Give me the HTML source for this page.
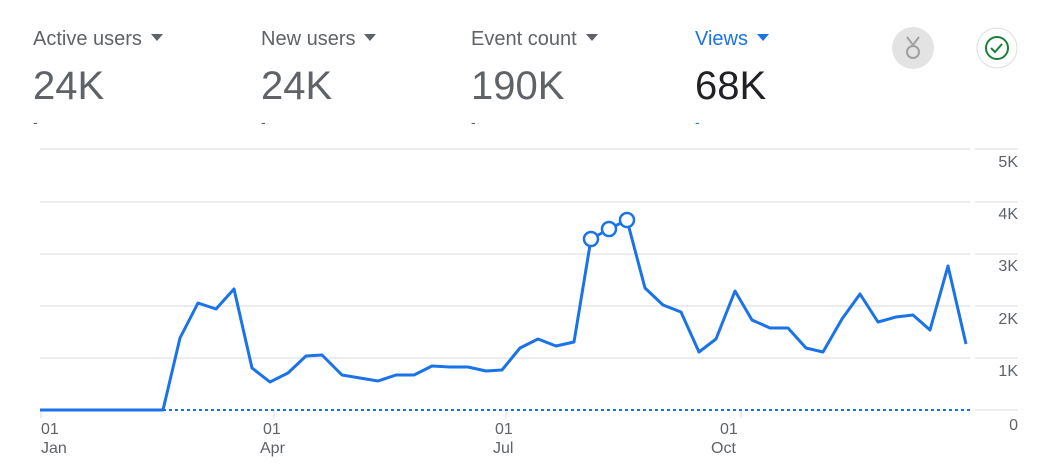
<!DOCTYPE html>
<html><head><style>
body{margin:0;width:1041px;height:471px;background:#fff;font-family:"Liberation Sans",Arial,sans-serif;overflow:hidden;position:relative}
.m{position:absolute;top:28px}
.t{font-size:20px;color:#5f6368;white-space:nowrap;height:24px}
.t span{display:inline-block;width:0;height:0;border-left:6px solid transparent;border-right:6px solid transparent;border-top:7px solid #5f6368;margin-left:9px;vertical-align:4px}
.v{font-size:40px;color:#5f6368;margin-top:12px;line-height:44px}
.d{font-size:14px;color:#5f6368;margin-top:6px}
</style></head><body>
<div class="m" style="left:33px"><div class="t">Active users<span></span></div><div class="v">24K</div><div class="d">-</div></div>
<div class="m" style="left:261px"><div class="t">New users<span></span></div><div class="v">24K</div><div class="d">-</div></div>
<div class="m" style="left:471px"><div class="t">Event count<span></span></div><div class="v">190K</div><div class="d">-</div></div>
<div class="m" style="left:695px"><div class="t" style="color:#1a73e8">Views<span style="border-top-color:#1a73e8"></span></div><div class="v" style="color:#202124">68K</div><div class="d" style="color:#1a73e8">-</div></div>
<svg width="1041" height="471" style="position:absolute;left:0;top:0">
<circle cx="913" cy="48" r="21" fill="#e3e3e3"/>
<g fill="none" stroke="#a0a0a0" stroke-width="2"><path d="M907 37l6 8 6-8"/><circle cx="913" cy="52" r="6"/></g>
<circle cx="997" cy="48" r="20" fill="#fff" stroke="#ddd"/>
<circle cx="997" cy="48" r="11" fill="none" stroke="#188038" stroke-width="2"/>
<path d="M991 48l4 4 7-8" fill="none" stroke="#188038" stroke-width="2"/>
<g stroke="#e6e6e6" stroke-width="1.5">
<line x1="40" y1="149" x2="970" y2="149"/><line x1="975" y1="149" x2="1018" y2="149"/>
<line x1="40" y1="202" x2="970" y2="202"/><line x1="975" y1="202" x2="1018" y2="202"/>
<line x1="40" y1="254" x2="970" y2="254"/><line x1="975" y1="254" x2="1018" y2="254"/>
<line x1="40" y1="306" x2="970" y2="306"/><line x1="975" y1="306" x2="1018" y2="306"/>
<line x1="40" y1="358" x2="970" y2="358"/><line x1="975" y1="358" x2="1018" y2="358"/>
<line x1="975" y1="410" x2="1018" y2="410"/>
<line x1="41" y1="410" x2="41" y2="418"/><line x1="274" y1="410" x2="274" y2="418"/><line x1="506" y1="410" x2="506" y2="418"/><line x1="741" y1="410" x2="741" y2="418"/>
</g>
<line x1="163" y1="410" x2="970" y2="410" stroke="#1a73e8" stroke-width="2" stroke-dasharray="3,3"/>
<polyline fill="none" stroke="#1a73e8" stroke-width="3" stroke-linejoin="round" points="40,410 163,410 180,338 198,303 216,309 234,289 252,368 270,382 288,373 306,356 322,355 342,375 360,378 378,381 396,375 414,375 432,366 450,367 468,367 486,371 502,370 520,348 538,339 556,346 574,342 591,239 609,229 627,220 645,288 663,305 681,312 699,352 716,339 735,291 752,320 770,328 788,328 806,348 823,352 842,319 860,294 878,322 896,317 913,315 930,330 948,266 966,344"/>
<g fill="#fff" stroke="#1a73e8" stroke-width="2.5"><circle cx="591" cy="239" r="7"/><circle cx="609" cy="229" r="7"/><circle cx="627" cy="220" r="7"/></g>
<g font-size="16" fill="#5f6368" text-anchor="end">
<text x="1018" y="167">5K</text><text x="1018" y="219">4K</text><text x="1018" y="271">3K</text><text x="1018" y="324">2K</text><text x="1018" y="376">1K</text><text x="1018" y="430">0</text>
</g>
<g font-size="16" fill="#5f6368">
<text x="41" y="434">01</text><text x="41" y="453">Jan</text>
<text x="263" y="434">01</text><text x="260" y="453">Apr</text>
<text x="495" y="434">01</text><text x="493" y="453">Jul</text>
<text x="720" y="434">01</text><text x="711" y="453">Oct</text>
</g>
</svg>
</body></html>
